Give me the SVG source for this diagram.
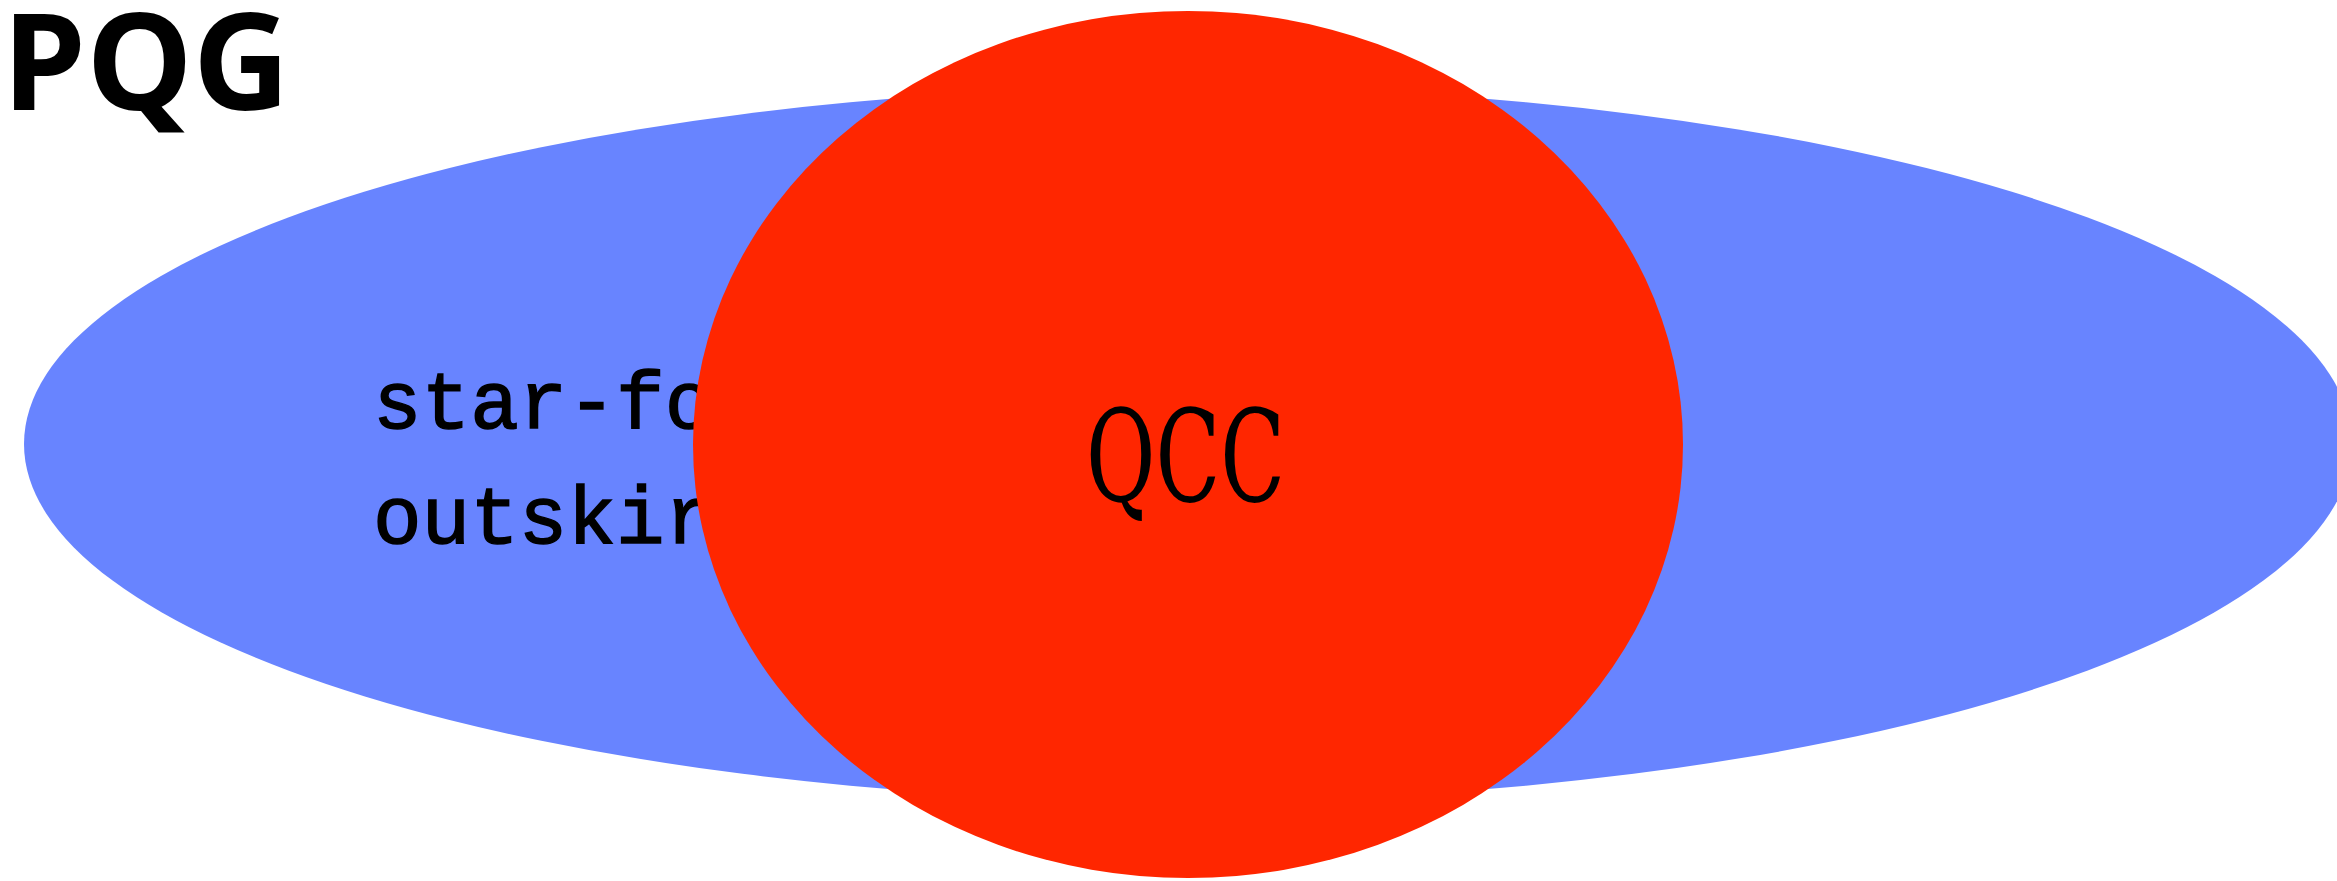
<svg xmlns="http://www.w3.org/2000/svg" width="2337" height="881" viewBox="0 0 2337 881">
<style>
.title{font-family:"Open Sans","Liberation Sans",sans-serif;font-weight:bold;font-size:134px;fill:#000}
.mono{font-family:"Liberation Mono","DejaVu Sans Mono",monospace;font-size:81px;fill:#000;stroke:#000;stroke-width:1.5px}
.serif{font-family:"DejaVu Serif","Liberation Serif",serif;font-size:127px;fill:#000}
</style>
<rect width="2337" height="881" fill="#fff"/>
<text class="title" x="2" y="110">PQG</text>
<g id="outskirts">
<ellipse cx="1188" cy="444" rx="1164" ry="357" fill="#6884ff"/>
<text class="mono" x="373" y="428">star-forming</text>
<text class="mono" x="373" y="543">outskirts</text>
</g>
<g id="qcc">
<ellipse cx="1188" cy="444.5" rx="495" ry="433.5" fill="#ff2600"/>
<text class="serif" x="1086" y="501" textLength="199" lengthAdjust="spacingAndGlyphs">QCC</text>
</g>
<g id="connectors"/>
</svg>
